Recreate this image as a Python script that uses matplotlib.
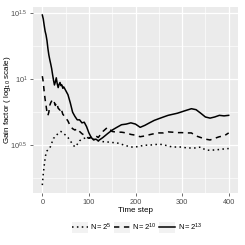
import matplotlib
matplotlib.use("Agg")
import matplotlib.pyplot as plt
from matplotlib.legend_handler import HandlerLine2D
from matplotlib.patches import Rectangle
from matplotlib.ticker import FixedLocator, NullFormatter

plt.rcParams['font.family'] = ['Liberation Sans', 'DejaVu Sans']
plt.rcParams['mathtext.fontset'] = 'custom'
plt.rcParams['mathtext.rm'] = 'Liberation Sans'
plt.rcParams['mathtext.it'] = 'Liberation Sans:italic'

# time steps shared by the three runs
steps = [0, 2, 4, 6, 8, 10, 12, 14, 16, 18, 20, 22, 24, 26, 28, 30, 32, 34, 36, 38,
         40, 42, 44, 46, 50, 55, 60, 65, 70, 75, 80, 85, 90, 95, 100, 105, 110, 115,
         120, 130, 140, 150, 160, 170, 180, 190, 200, 210, 220, 230, 240, 250, 260,
         270, 280, 290, 300, 310, 320, 330, 340, 350, 360, 370, 380, 390, 400]

# gain factor, N = 2^5
gain_n5 = [1.57, 1.9, 2.2, 2.5, 2.75, 2.85, 2.9, 2.95, 3.0, 3.1, 3.25, 3.4, 3.55, 3.6,
           3.7, 3.75, 3.8, 3.85, 3.9, 3.95, 4.0, 3.95, 3.9, 3.85, 3.75, 3.6, 3.4, 3.2,
           3.05, 3.2, 3.4, 3.5, 3.55, 3.6, 3.6, 3.55, 3.5, 3.45, 3.4, 3.35, 3.33, 3.3,
           3.28, 3.2, 3.12, 3.05, 3.05, 3.1, 3.15, 3.15, 3.18, 3.2, 3.18, 3.1, 3.05,
           3.05, 3.05, 3.0, 3.0, 3.0, 3.05, 2.9, 2.88, 2.9, 2.92, 2.95, 2.97]

# gain factor, N = 2^10
gain_n10 = [10.5, 9.5, 8.0, 7.0, 6.3, 5.6, 5.3, 5.6, 6.3, 6.6, 6.8, 7.0, 6.9, 6.6, 6.3,
            6.6, 6.4, 6.0, 5.9, 5.8, 6.0, 5.7, 5.4, 5.3, 5.1, 4.8, 4.4, 4.2, 4.1, 4.2,
            4.0, 3.85, 3.75, 3.62, 3.55, 3.6, 3.65, 3.7, 3.6, 4.0, 4.3, 4.0, 3.95, 3.95,
            3.9, 3.8, 3.75, 3.65, 3.7, 3.78, 3.85, 3.9, 3.9, 3.97, 3.95, 3.92, 3.92, 3.9,
            3.9, 3.7, 3.6, 3.5, 3.45, 3.55, 3.65, 3.7, 3.9]

# gain factor, N = 2^13
gain_n13 = [30.5, 28.5, 25.5, 23.0, 21.5, 19.5, 17.0, 15.2, 14.0, 13.0, 12.0, 10.8, 9.8,
            9.0, 9.5, 10.2, 9.2, 8.6, 9.1, 9.4, 8.9, 9.0, 8.5, 8.7, 8.2, 7.6, 6.6, 5.6,
            5.2, 4.9, 4.9, 4.65, 4.7, 4.35, 3.9, 3.6, 3.45, 3.5, 3.4, 3.6, 3.85, 4.1,
            4.3, 4.5, 4.55, 4.65, 4.55, 4.3, 4.45, 4.65, 4.85, 5.0, 5.15, 5.3, 5.4, 5.5,
            5.65, 5.8, 5.95, 5.85, 5.5, 5.15, 5.05, 5.15, 5.3, 5.25, 5.3]

series_labels = [r'$\mathrm{N} = 2^{5}$', r'$\mathrm{N} = 2^{10}$', r'$\mathrm{N} = 2^{13}$']
y_ticks = [10 ** 0.5, 10 ** 1.0, 10 ** 1.5]
y_ticklabels = [r'$10^{0.5}$', r'$10^{1}$', r'$10^{1.5}$']
y_minor = [10 ** 0.25, 10 ** 0.75, 10 ** 1.25]
x_ticks = [0, 100, 200, 300, 400]


class KeyHandler(HandlerLine2D):
    # ggplot style legend key: grey box behind the line
    def create_artists(self, legend, orig_handle, xdescent, ydescent,
                       width, height, fontsize, trans):
        arts = super().create_artists(legend, orig_handle, xdescent, ydescent,
                                      width, height, fontsize, trans)
        bg = Rectangle((-xdescent, -ydescent - 0.25 * height), width, height * 1.5,
                       facecolor='#f2f2f2', edgecolor='none', transform=trans)
        return [bg] + list(arts)


fig = plt.figure(figsize=(2.45, 2.45), dpi=100)
ax = fig.add_axes([33 / 245, 52 / 245, 205 / 245, 186 / 245])
ax.set_facecolor('#ebebeb')

styles = [(0, (1, 2.2)), (0, (3.5, 3)), '-']
for vals, ls, lab in zip([gain_n5, gain_n10, gain_n13], styles, series_labels):
    ax.plot(steps, vals, color='black', lw=1.1, ls=ls, label=lab)

ax.set_yscale('log')
ax.set_ylim(10 ** 0.136, 10 ** 1.545)
ax.set_xlim(-20, 420)
ax.yaxis.set_major_locator(FixedLocator(y_ticks))
ax.yaxis.set_minor_locator(FixedLocator(y_minor))
ax.yaxis.set_minor_formatter(NullFormatter())
ax.set_yticklabels(y_ticklabels)
ax.set_xticks(x_ticks)
ax.set_xticks([50, 150, 250, 350], minor=True)

ax.grid(which='major', color='white', lw=0.9)
ax.grid(which='minor', color='white', lw=0.45)
ax.set_axisbelow(True)
for s in ax.spines.values():
    s.set_visible(False)
ax.tick_params(which='major', length=2.5, width=0.5, color='#333333',
               labelsize=5.3, labelcolor='#4d4d4d', pad=1.5)
ax.tick_params(which='minor', length=0)

ax.set_xlabel('Time step', fontsize=5.8, labelpad=1)
ax.set_ylabel('Gain factor ( log$_{10}$ scale)', fontsize=5.8)
ax.yaxis.set_label_coords(-20 / 205, 0.5)

fig.legend(loc='center', bbox_to_anchor=(137 / 245, 1 - 227 / 245), ncol=3,
           frameon=False, fontsize=5.5, handlelength=2.1, handleheight=1.2,
           handletextpad=0.3, columnspacing=0.3,
           handler_map={matplotlib.lines.Line2D: KeyHandler()})

fig.savefig('out.png', dpi=100)
